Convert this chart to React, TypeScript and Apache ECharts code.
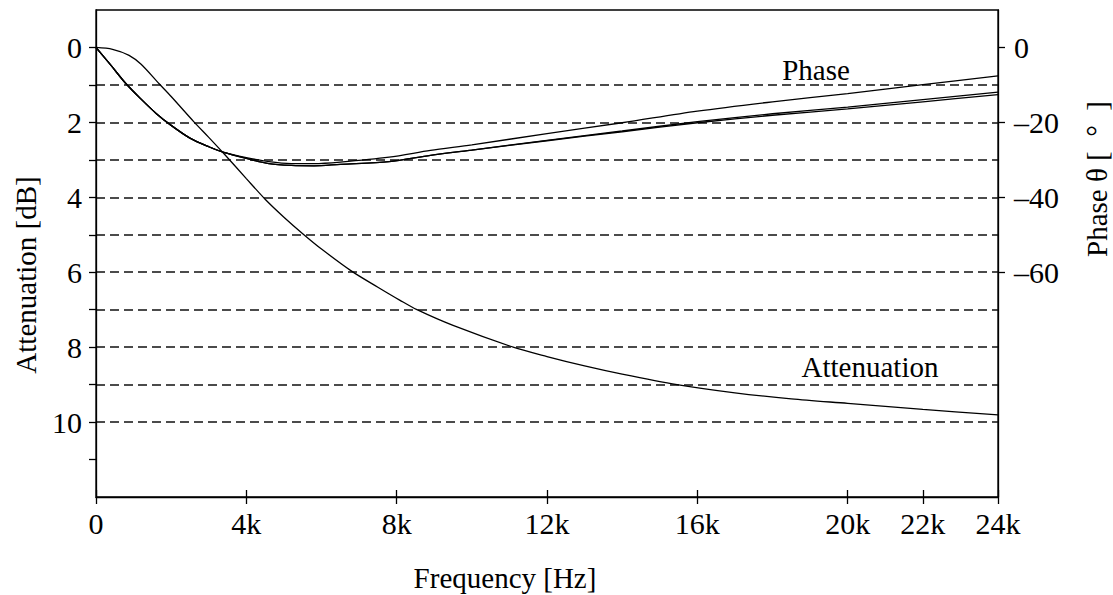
import React, { useEffect, useRef } from "react";
import * as echarts from "echarts";

// Attenuation curve (dB, left axis)
const attFreq = [0, 440, 880, 1200, 1680, 2000, 2600, 3000, 3400, 4000, 4500, 5000, 5500, 6000, 6800, 7500, 8090, 8540, 9500, 11100, 12000, 13000, 14000, 15460, 17000, 18500, 20000, 22000, 24000];
const attValues = [0, 0.05, 0.21, 0.45, 0.97, 1.31, 1.98, 2.4, 2.83, 3.5, 4.05, 4.53, 4.97, 5.38, 5.97, 6.4, 6.75, 7.0, 7.42, 8.0, 8.25, 8.5, 8.72, 9.0, 9.22, 9.38, 9.5, 9.66, 9.81];

// Phase curves (degrees, right axis)
const phaseFreq = [0, 400, 800, 1200, 1600, 2000, 2500, 3000, 3400, 4000, 4600, 5200, 5800, 6500, 7800, 8900, 10000, 12000, 14000, 16000, 18000, 20000, 22000, 24000];
const phaseA = [0, -4.8, -9.7, -13.8, -17.6, -20.8, -24.2, -26.5, -28.0, -29.4, -30.5, -31.0, -31.0, -30.6, -29.3, -27.5, -26.0, -23.0, -20.1, -17.0, -14.5, -12.3, -9.9, -7.6];
const phaseB = [0, -4.8, -9.7, -13.8, -17.6, -20.8, -24.2, -26.5, -28.0, -29.6, -31.0, -31.5, -31.6, -31.2, -30.5, -28.8, -27.4, -24.8, -22.3, -19.8, -17.7, -15.9, -13.9, -11.9];
const phaseC = [0, -4.8, -9.7, -13.8, -17.6, -20.8, -24.2, -26.5, -28.0, -29.6, -31.0, -31.5, -31.6, -31.2, -30.5, -28.8, -27.4, -24.9, -22.5, -20.1, -18.1, -16.4, -14.5, -12.6];

// Tick values
const freqTicks = [0, 4000, 8000, 12000, 16000, 20000, 22000, 24000];
const attTicks = [0, 1, 2, 3, 4, 5, 6, 7, 8, 9, 10, 11];
const attLabels = [0, 2, 4, 6, 8, 10];
const phaseTicks = [0, -20, -40, -60];

const FONT = "Liberation Serif";
const FS = 29;
const TFS = 30;

const zip = (xs: number[], ys: number[]) => xs.map((x, i) => [x, ys[i]]);

export default function App() {
  const ref = useRef<HTMLDivElement>(null);
  useEffect(() => {
    if (!ref.current) return;
    const chart = echarts.init(ref.current, undefined, { renderer: "svg" });
    const lineStyle = { color: "#000", width: 1.3 };
    const base = {
      type: "line" as const,
      showSymbol: false,
      smooth: 0.3,
      lineStyle,
      silent: true,
    };
    const axisLineStyle = { color: "#000", width: 1.3 };
    chart.setOption({
      animation: false,
      backgroundColor: "#fff",
      textStyle: { fontFamily: FONT },
      grid: {
        left: 96,
        right: 115,
        top: 10,
        bottom: 98,
        show: true,
        borderColor: "#000",
        borderWidth: 1.3,
      },
      xAxis: [
        {
          type: "value",
          min: 0,
          max: 24000,
          interval: 2000,
          position: "bottom",
          axisLine: { show: true, onZero: false, lineStyle: axisLineStyle },
          axisTick: { show: true, customValues: freqTicks, length: 7, inside: false, lineStyle: axisLineStyle },
          axisLabel: {
            customValues: freqTicks,
            margin: 11,
            color: "#000",
            fontFamily: FONT,
            fontSize: TFS,
            formatter: (v: number) => (v === 0 ? "0" : v / 1000 + "k"),
          },
          splitLine: { show: false },
        },
        {
          type: "value",
          min: 0,
          max: 24000,
          interval: 2000,
          position: "bottom",
          axisLine: { show: false, onZero: false },
          axisTick: { show: true, customValues: freqTicks, length: 7, inside: true, lineStyle: axisLineStyle },
          axisLabel: { show: false },
          splitLine: { show: false },
        },
      ],
      yAxis: [
        {
          type: "value",
          inverse: true,
          min: -1,
          max: 12,
          interval: 1,
          position: "left",
          axisLine: { show: true, onZero: false, lineStyle: axisLineStyle },
          axisTick: { show: true, customValues: attTicks, length: 7, lineStyle: axisLineStyle },
          axisLabel: {
            customValues: attLabels,
            margin: 14,
            color: "#000",
            fontFamily: FONT,
            fontSize: TFS,
          },
          splitLine: {
            show: true,
            showMinLine: false,
            showMaxLine: false,
            lineStyle: { color: "#111", width: 1.5, type: [9, 5] },
          },
        },
        {
          type: "value",
          min: -120,
          max: 10,
          interval: 10,
          position: "right",
          axisLine: { show: true, onZero: false, lineStyle: axisLineStyle },
          axisTick: { show: true, customValues: phaseTicks, length: 7, lineStyle: axisLineStyle },
          axisLabel: {
            customValues: phaseTicks,
            margin: 16,
            color: "#000",
            fontFamily: FONT,
            fontSize: TFS,
            formatter: (v: number) => (v < 0 ? "\u2013" + Math.abs(v) : String(v)),
          },
          splitLine: { show: false },
        },
      ],
      graphic: [
        {
          type: "text",
          x: 26,
          y: 275,
          rotation: Math.PI / 2,
          style: { text: "Attenuation [dB]", fill: "#000", font: `${FS}px ${FONT}`, align: "center", verticalAlign: "middle" },
        },
        {
          type: "text",
          x: 1097,
          y: 179,
          rotation: Math.PI / 2,
          style: { text: "Phase \u03b8 [\u2002\u00b0\u2002]", fill: "#000", font: `${FS}px ${FONT}`, align: "center", verticalAlign: "middle" },
        },
        {
          type: "text",
          x: 505,
          y: 578,
          style: { text: "Frequency [Hz]", fill: "#000", font: `${FS}px ${FONT}`, align: "center", verticalAlign: "middle" },
        },
        {
          type: "text",
          x: 816,
          y: 70,
          style: { text: "Phase", fill: "#000", font: `${FS}px ${FONT}`, align: "center", verticalAlign: "middle" },
        },
        {
          type: "text",
          x: 870,
          y: 367,
          style: { text: "Attenuation", fill: "#000", font: `${FS}px ${FONT}`, align: "center", verticalAlign: "middle" },
        },
      ],
      series: [
        { ...base, name: "Attenuation", xAxisIndex: 0, yAxisIndex: 0, data: zip(attFreq, attValues) },
        { ...base, name: "Phase A", xAxisIndex: 0, yAxisIndex: 1, data: zip(phaseFreq, phaseA) },
        { ...base, name: "Phase B", xAxisIndex: 0, yAxisIndex: 1, data: zip(phaseFreq, phaseB) },
        { ...base, name: "Phase C", xAxisIndex: 0, yAxisIndex: 1, data: zip(phaseFreq, phaseC) },
      ],
    });
    return () => chart.dispose();
  }, []);
  return <div ref={ref} style={{ position: "absolute", left: 0, top: 0, width: 1113, height: 595 }} />;
}
